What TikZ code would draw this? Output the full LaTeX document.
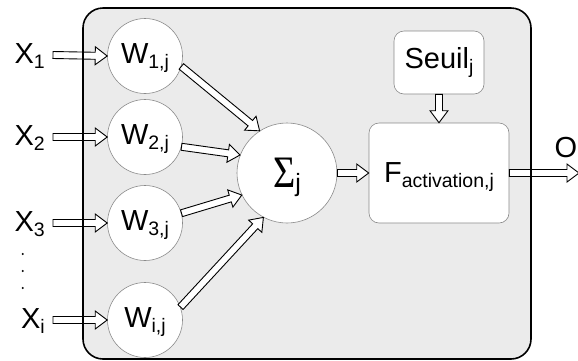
\documentclass[tikz,border=0pt]{standalone}
\usepackage{fontspec}
\usepackage{graphicx}
\setmainfont{Liberation Sans}
\newfontfamily\serifsig{Liberation Serif}
\usetikzlibrary{calc}
\definecolor{boxgray}{HTML}{EBEBEB}
\definecolor{edgegray}{HTML}{8A8A8A}
\newcommand\sbs[1]{\raisebox{-5pt}{\fontsize{19.5}{20}\selectfont #1}}
\newcommand\myarrow[2]{%
  \path (#1) coordinate (ba-a) (#2) coordinate (ba-b);
  \path ($(ba-b)!12pt!(ba-a)$) coordinate (ba-h);
  \draw[arrowbody] ($(ba-a)!3.5pt!90:(ba-b)$) -- ($(ba-h)!3.5pt!90:(ba-b)$)
    -- ($(ba-h)!9pt!90:(ba-b)$) -- (ba-b) -- ($(ba-h)!9pt!-90:(ba-b)$)
    -- ($(ba-h)!3.5pt!-90:(ba-b)$) -- ($(ba-a)!3.5pt!-90:(ba-b)$) -- cycle;}
\begin{document}
\begin{tikzpicture}[x=1pt,y=-1pt,
  bigfont/.style={font=\fontsize{29}{34}\selectfont},
  wnode/.style={circle, draw=edgegray, fill=white, line width=0.6pt, minimum size=75pt, inner sep=0pt, bigfont, text height=21pt, text depth=7pt},
  snode/.style={circle, draw=edgegray, fill=white, line width=0.6pt, minimum size=100pt, inner sep=0pt, bigfont, text height=30pt, text depth=2pt},
  rbox/.style={rectangle, rounded corners=10pt, draw=edgegray, fill=white, line width=0.6pt, inner sep=0pt, bigfont},
  xlab/.style={bigfont, inner xsep=8pt, inner ysep=0pt, anchor=east, text height=21pt, text depth=5pt},
  arrowbody/.style={draw=black, fill=white, line width=0.9pt, line join=miter},
  frame/.style={line width=1.6pt, rounded corners=20pt}]
\useasboundingbox (0,0) rectangle (578,360);
\fill[boxgray, rounded corners=20pt] (83,8) rectangle (531,359);

\node[wnode] (w1) at (145,56) {W\sbs{1,j}};
\node[wnode] (w2) at (145,137) {W\sbs{2,j}};
\node[wnode] (w3) at (145,223) {W\sbs{3,j}};
\node[wnode] (wi) at (145,320) {W\sbs{i,j}};

\node[xlab] (x1) at (53,55) {X\sbs{1}};
\node[xlab] (x2) at (53,137) {X\sbs{2}};
\node[xlab] (x3) at (53,223) {X\sbs{3}};
\node[xlab] (xi) at (53,320) {X\sbs{i}};

\fill (22.7,254) circle (1.1pt);
\fill (22.7,271) circle (1.1pt);
\fill (22.7,288) circle (1.1pt);

\node[snode] (s) at (287,173) {{\serifsig\scalebox{0.85}[1]{\fontsize{45}{45}\selectfont Σ}}\raisebox{-4.5pt}{\fontsize{25}{25}\selectfont j}};
\node[rbox, minimum width=140pt, minimum height=100pt, text height=22pt, text depth=4pt] (f) at (439,173) {F\sbs{activation,j}};
\node[rbox, minimum width=90pt, minimum height=63pt, text height=21pt, text depth=10pt] (seuil) at (439,62.5) {Seuil\sbs{j}};
\node[bigfont, anchor=base west, inner sep=0pt] (o) at (554.5,157) {O};
\coordinate (out) at (579,173);

\myarrow{x1.east}{w1.west}
\myarrow{x2.east}{w2.west}
\myarrow{x3.east}{w3.west}
\myarrow{xi.east}{wi.west}
\myarrow{w1.-16}{s.123}
\myarrow{w2.-15}{s.159}
\myarrow{w3.15}{s.206}
\myarrow{wi.20}{s.242}
\myarrow{s.east}{f.west}
\myarrow{seuil.south}{f.north}
\myarrow{f.east}{out}

\draw[frame] (83,8) rectangle (531,359);
\end{tikzpicture}
\end{document}
